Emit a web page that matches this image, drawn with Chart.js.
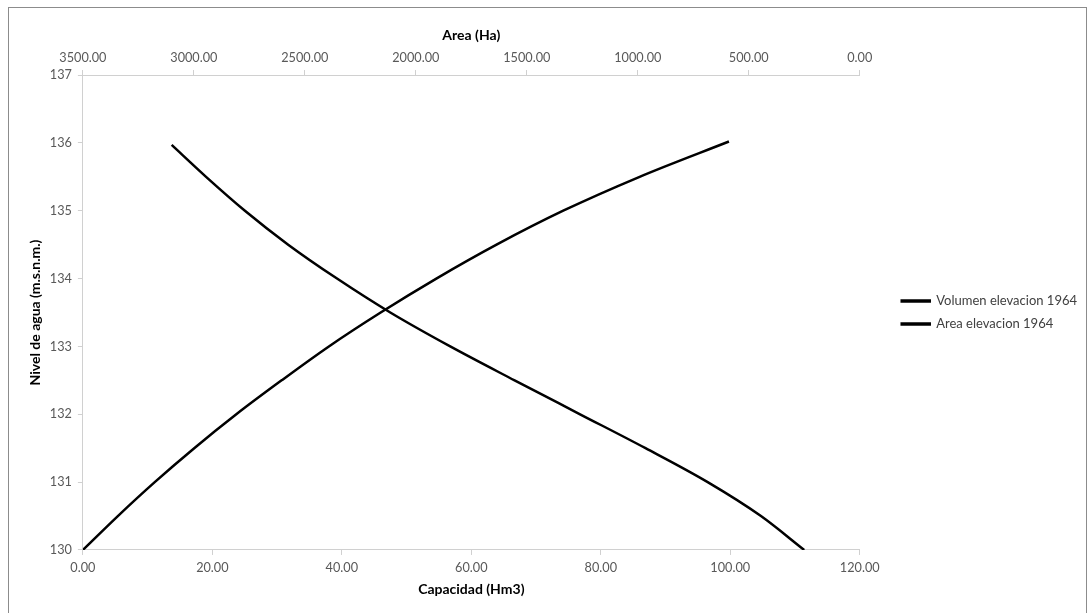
<!DOCTYPE html>
<html>
<head>
<meta charset="utf-8">
<script src="https://cdn.jsdelivr.net/npm/chart.js@4.4.0/dist/chart.umd.min.js"></script>
<style>
  body { margin: 0; background: #fff; }
  #wrap { position: relative; width: 1090px; height: 613px; }
</style>
</head>
<body>
<div id="wrap"><canvas id="myChart"></canvas></div>
<script>
// Curva nivel - capacidad
const nivelVolumen = [130, 130.5, 131, 131.5, 132, 132.5, 133, 133.5, 134, 134.5, 135, 135.5, 136.02];
const volumen = [0, 5.4, 11.1, 17.2, 23.7, 30.7, 38.0, 46.0, 54.6, 63.9, 74.2, 86.0, 99.8];

// Curva nivel - area
const nivelArea = [130, 130.5, 131, 131.5, 132, 132.5, 133, 133.5, 134, 134.5, 135, 135.5, 135.97];
const area = [250, 445, 685, 965, 1260, 1555, 1845, 2115, 2355, 2575, 2770, 2945, 3100];

const labelVolumen = "Volumen elevacion 1964";
const labelArea = "Area elevacion 1964";

const FONT = "Lato, 'Open Sans', sans-serif";

function toPoints(xs, ys) {
  return xs.map((x, i) => ({ x: x, y: ys[i] }));
}

// borde exterior del grafico
const frame = {
  id: "frame",
  beforeDraw(chart) {
    const ctx = chart.ctx;
    ctx.save();
    ctx.fillStyle = "#fff";
    ctx.fillRect(0, 0, chart.width, chart.height);
    ctx.strokeStyle = "#8c8c8c";
    ctx.lineWidth = 1;
    ctx.strokeRect(8.5, 7.5, 1078, 610);
    ctx.restore();
  },
};

const axisGrid = {
  drawOnChartArea: false,
  drawTicks: true,
  tickLength: 5,
  color: "#d0d0d0",
};

const tickFont = { family: FONT, size: 12.7 };
const titleFont = { family: FONT, size: 14, weight: "bold" };

new Chart(document.getElementById("myChart"), {
  type: "scatter",
  data: {
    datasets: [
      {
        label: labelVolumen,
        data: toPoints(volumen, nivelVolumen),
        xAxisID: "x",
        showLine: true,
        borderColor: "#000",
        backgroundColor: "#000",
        borderWidth: 2.5,
        pointRadius: 0,
        cubicInterpolationMode: "monotone",
      },
      {
        label: labelArea,
        data: toPoints(area, nivelArea),
        xAxisID: "x2",
        showLine: true,
        borderColor: "#000",
        backgroundColor: "#000",
        borderWidth: 2.5,
        pointRadius: 0,
        cubicInterpolationMode: "monotone",
      },
    ],
  },
  options: {
    responsive: true,
    maintainAspectRatio: false,
    animation: false,
    layout: { padding: { left: 27, top: 27, right: 3, bottom: 15 } },
    plugins: {
      tooltip: { enabled: false },
      legend: {
        position: "right",
        maxWidth: 260,
        labels: {
          boxWidth: 28,
          boxHeight: 1,
          padding: 10,
          color: "#404040",
          font: { family: FONT, size: 13 },
        },
      },
    },
    scales: {
      x: {
        type: "linear",
        position: "bottom",
        min: 0,
        max: 120,
        grid: axisGrid,
        border: { color: "#d0d0d0" },
        ticks: {
          stepSize: 20,
          padding: 5,
          color: "#595959",
          font: tickFont,
          callback: (v) => v.toFixed(2),
        },
        title: {
          display: true,
          text: "Capacidad (Hm3)",
          color: "#000",
          font: titleFont,
          padding: { top: 1, bottom: 0 },
        },
      },
      x2: {
        type: "linear",
        position: "top",
        min: 0,
        max: 3500,
        reverse: true,
        grid: axisGrid,
        border: { color: "#d0d0d0" },
        ticks: {
          stepSize: 500,
          padding: 5,
          color: "#595959",
          font: tickFont,
          callback: (v) => v.toFixed(2),
        },
        title: {
          display: true,
          text: "Area (Ha)",
          color: "#000",
          font: titleFont,
          padding: { top: 0, bottom: 1 },
        },
      },
      y: {
        type: "linear",
        min: 130,
        max: 137,
        grid: axisGrid,
        border: { color: "#d0d0d0" },
        ticks: {
          stepSize: 1,
          padding: 6,
          color: "#595959",
          font: tickFont,
        },
        title: {
          display: true,
          text: "Nivel de agua (m.s.n.m.)",
          color: "#000",
          font: titleFont,
          padding: { top: 0, bottom: 0 },
        },
      },
      // espacio vacio entre el grafico y la leyenda
      gap: {
        type: "linear",
        position: "right",
        grid: { display: false },
        border: { display: false },
        ticks: { display: false },
        afterFit(scale) {
          scale.width = 32;
        },
      },
    },
  },
  plugins: [frame],
});
</script>
</body>
</html>
